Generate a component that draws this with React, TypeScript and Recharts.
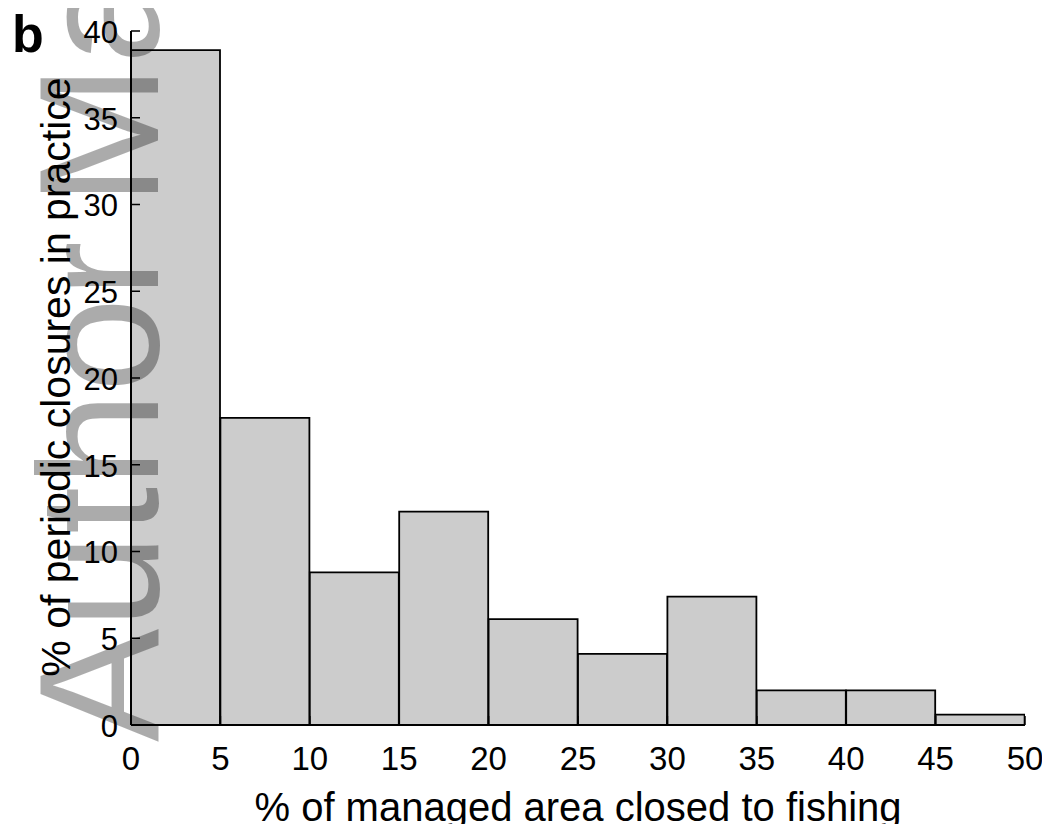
import { BarChart, Bar, XAxis, YAxis } from 'recharts'

// ─── Data ──────────────────────────────────────────────────────────────────────

const binStarts = [0, 5, 10, 15, 20, 25, 30, 35, 40, 45]
const binWidth = 5
const closureShares = [38.9, 17.7, 8.8, 12.3, 6.1, 4.1, 7.4, 2.0, 2.0, 0.6]
const xTicks = [0, 5, 10, 15, 20, 25, 30, 35, 40, 45, 50]
const yTicks = [0, 5, 10, 15, 20, 25, 30, 35, 40]

const data = binStarts.map((start, i) => ({
  mid: start + binWidth / 2,
  share: closureShares[i],
}))

const FONT = '"Liberation Sans", Arial, Helvetica, sans-serif'

// ─── Ticks (labels outside, tick marks pointing into the plot) ─────────────────

function YTick(props: any) {
  const { x, y, payload } = props
  const axisX = x + 13
  return (
    <g>
      <line x1={axisX} x2={axisX + 9} y1={y} y2={y} stroke="#000" strokeWidth={1.5} />
      <text x={x} y={y} dy="0.38em" textAnchor="end" fontSize={31} fontFamily={FONT} fill="#000">
        {payload.value}
      </text>
    </g>
  )
}

function XTick(props: any) {
  const { x, y, payload } = props
  const axisY = y - 22
  return (
    <g>
      <line x1={x} x2={x} y1={axisY} y2={axisY - 9} stroke="#000" strokeWidth={1.5} />
      <text x={x} y={y} dy="0.71em" textAnchor="middle" fontSize={33} fontFamily={FONT} fill="#000">
        {payload.value}
      </text>
    </g>
  )
}

function YLabel(props: any) {
  const { viewBox } = props
  const cx = viewBox.x + 70
  const cy = viewBox.y + viewBox.height / 2 - 1
  return (
    <text
      transform={`translate(${cx},${cy}) rotate(-90)`}
      textAnchor="middle"
      fontSize={41}
      fontFamily={FONT}
      fill="#000"
    >
      % of periodic closures in practice
    </text>
  )
}

// ─── Component ─────────────────────────────────────────────────────────────────

export default function App() {
  return (
    <div style={{ position: 'relative', width: 1050, height: 832, margin: -8, background: '#fff' }}>
      <BarChart
        width={1050}
        height={832}
        data={data}
        margin={{ top: 31, right: 25, bottom: 0, left: 0 }}
        barCategoryGap={0}
        barGap={0}
      >
        <XAxis
          dataKey="mid"
          type="number"
          domain={[0, 50]}
          ticks={xTicks}
          interval={0}
          allowDataOverflow
          height={107}
          tickSize={0}
          tickMargin={22}
          tick={<XTick />}
          axisLine={{ stroke: '#000', strokeWidth: 2 }}
          label={{
            value: '% of managed area closed to fishing',
            position: 'insideBottom',
            offset: 11,
            fontSize: 40,
            fontFamily: FONT,
            fill: '#000',
          }}
        />
        <YAxis
          type="number"
          domain={[0, 40]}
          ticks={yTicks}
          interval={0}
          width={131}
          tickSize={0}
          tickMargin={13}
          tick={<YTick />}
          axisLine={{ stroke: '#000', strokeWidth: 2 }}
          label={<YLabel />}
        />
        <Bar
          dataKey="share"
          fill="#cccccc"
          stroke="#000"
          strokeWidth={1.8}
          isAnimationActive={false}
        />
      </BarChart>
      <svg
        width={1050}
        height={832}
        style={{ position: 'absolute', left: 0, top: 0, pointerEvents: 'none' }}
      >
        <text x={12} y={52} fontSize={52} fontWeight="bold" fontFamily={FONT} fill="#000">
          b
        </text>
        <text
          transform="translate(158,742) rotate(-90)"
          fontSize={170}
          fontFamily={FONT}
          fill="#000"
          fillOpacity={0.33}
        >
          Author{' '}
          <tspan dx={-12}>Manuscript</tspan>
        </text>
      </svg>
    </div>
  )
}
